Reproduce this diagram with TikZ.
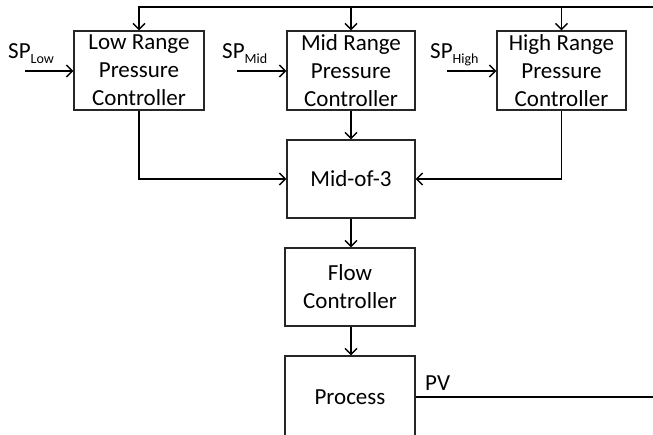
\documentclass[tikz,border=0pt]{standalone}
\usepackage{fontspec}
\setmainfont{Carlito}
\usetikzlibrary{arrows.meta}
\begin{document}
\begin{tikzpicture}[x=1pt,y=-1pt,
  box/.style={draw=black!85,line width=1.2pt,align=center,inner sep=0pt,
    font=\fontsize{23}{28}\selectfont},
  arr/.style={line width=1.6pt,-{Straight Barb[length=6pt,width=12pt,line width=1.4pt]}},
  ln/.style={line width=1.6pt},
  lbl/.style={inner sep=0pt,font=\fontsize{23}{28}\selectfont}]
\useasboundingbox[fill=white] (0,0) rectangle (653,434);
\node[box,minimum width=130pt,minimum height=79pt] (low) at (139,70.5) {Low Range\\Pressure\\Controller};
\node[box,minimum width=128pt,minimum height=79pt] (mid) at (351,70.5) {Mid Range\\Pressure\\Controller};
\node[box,minimum width=129pt,minimum height=79pt] (high) at (561.5,70.5) {High Range\\Pressure\\Controller};
\node[box,minimum width=128pt,minimum height=78pt] (m3) at (351,179) {Mid-of-3};
\node[box,minimum width=130pt,minimum height=78pt] (flow) at (350,287) {Flow\\Controller};
\node[box,minimum width=130pt,minimum height=82pt] (proc) at (350,397) {Process};
% SP labels
\newcommand{\spl}[1]{SP\raisebox{-5pt}{\fontsize{14}{14}\selectfont #1}}
\node[lbl,anchor=base west] (spl) at (8,58) {\spl{Low}};
\node[lbl,anchor=base west] (spm) at (222,58) {\spl{Mid}};
\node[lbl,anchor=base west] (sph) at (430,58) {\spl{High}};
\coordinate (sla) at (25,71);
\coordinate (sma) at (237,71);
\coordinate (sha) at (447,71);
\draw[arr] (sla) -- (sla -| low.west);
\draw[arr] (sma) -- (sma -| mid.west);
\draw[arr] (sha) -- (sha -| high.west);
% outputs
\draw[arr] (low.south) |- (m3.west);
\draw[arr] (high.south) |- (m3.east);
\draw[arr] (mid.south) -- (m3.north);
\draw[arr] (m3.south) -- (m3.south |- flow.north);
\draw[arr] (m3.south |- flow.south) -- (m3.south |- proc.north);
% feedback
\coordinate (fbr) at (670,397);
\coordinate (fbt) at (670,7);
\node[lbl,anchor=base west] (pv) at (425,390) {PV};
\draw[ln] (proc.east) -- (fbr) -- (fbt) -- (fbt -| mid.north);
\draw[arr] (fbt -| high.north) -- (high.north);
\draw[arr] (fbt -| mid.north) -- (mid.north);
\draw[arr] (fbt -| mid.north) -- (fbt -| low.north) -- (low.north);
\end{tikzpicture}
\end{document}
